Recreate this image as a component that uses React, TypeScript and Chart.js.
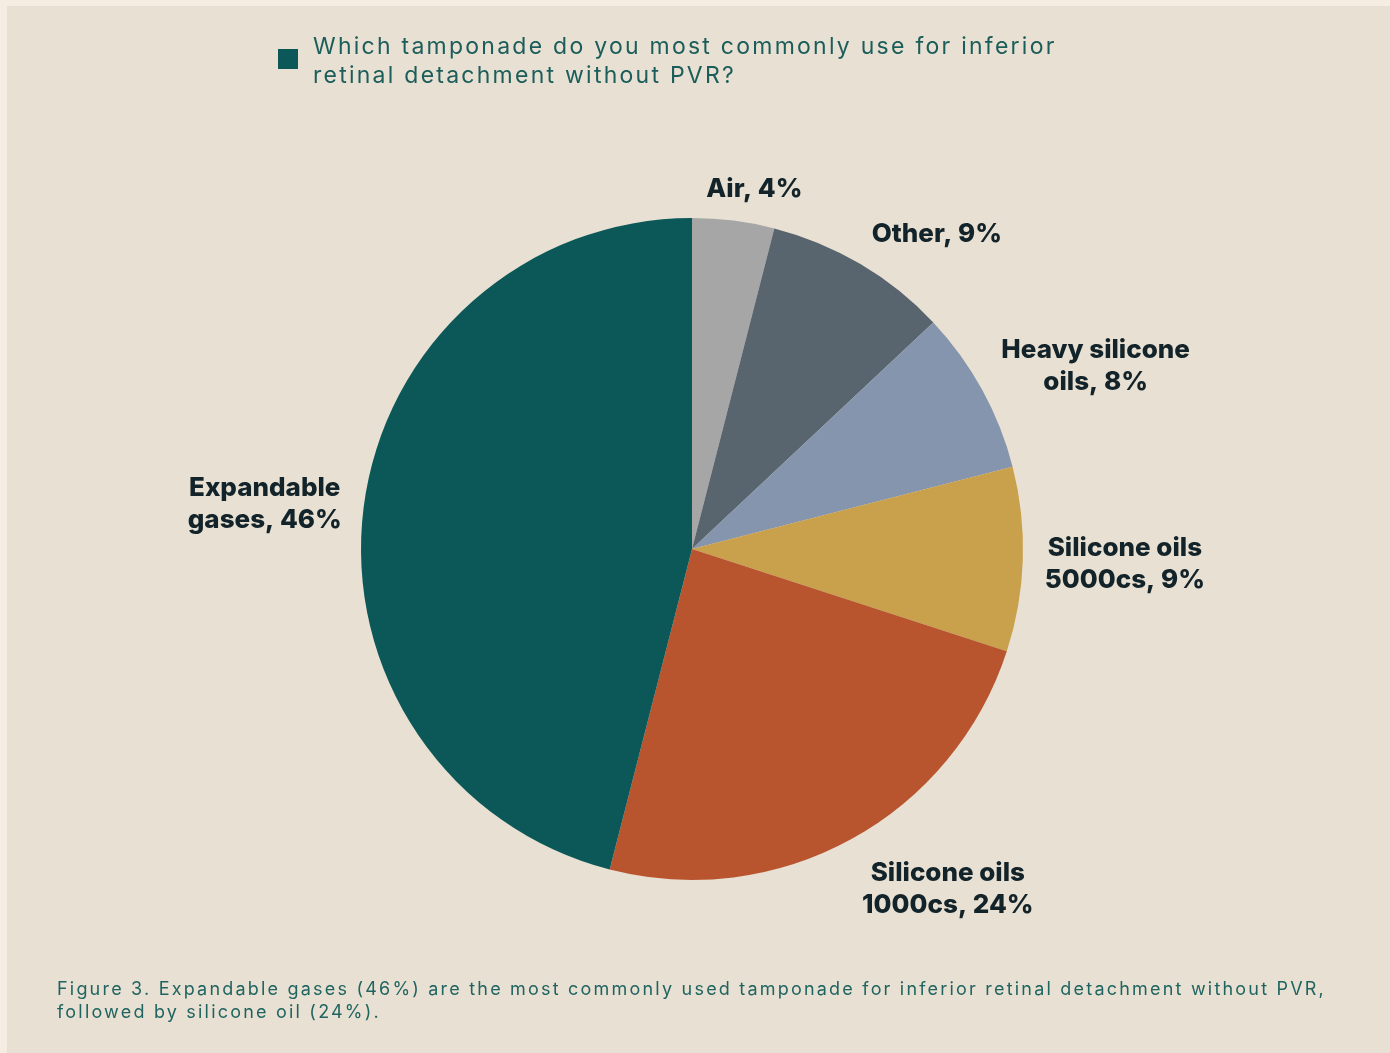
import React, { useEffect, useRef } from "react";
import { Chart, registerables } from "chart.js";

Chart.register(...registerables);

// ---- Data ----
const categories: string[][] = [
  ["Air"],
  ["Other"],
  ["Heavy silicone", "oils"],
  ["Silicone oils", "5000cs"],
  ["Silicone oils", "1000cs"],
  ["Expandable", "gases"],
];
const values: number[] = [4, 9, 8, 9, 24, 46];
const sliceColors: string[] = ["#a6a6a6", "#59656e", "#8595ae", "#c9a04c", "#b8552f", "#0c5859"];
const legendTitle = "Which tamponade do you most commonly use for inferior retinal detachment without PVR?";
const legendLines: string[] = [
  "Which tamponade do you most commonly use for inferior",
  "retinal detachment without PVR?",
];
const captionLines: string[] = [
  "Figure 3. Expandable gases (46%) are the most commonly used tamponade for inferior retinal detachment without PVR,",
  "followed by silicone oil (24%).",
];

const W = 1383;
const H = 1047;

const labelPlugin = {
  id: "outerLabels",
  afterDatasetsDraw(chart: any) {
    const ctx = chart.ctx as CanvasRenderingContext2D;
    const meta = chart.getDatasetMeta(0);
    const fontSize = 26;
    const lineH = 32;
    const offset = 22;
    ctx.save();
    ctx.font = `800 ${fontSize}px Inter, "Noto Sans", sans-serif`;
    ctx.fillStyle = "#13232a";
    ctx.textAlign = "center";
    ctx.textBaseline = "middle";
    meta.data.forEach((arc: any, i: number) => {
      const p = arc.getProps(["x", "y", "startAngle", "endAngle", "outerRadius"], true);
      const mid = (p.startAngle + p.endAngle) / 2;
      const dx = Math.cos(mid);
      const dy = Math.sin(mid);
      const cat = categories[i];
      const lines = cat.slice(0, -1).concat([`${cat[cat.length - 1]}, ${values[i]}%`]);
      const w = Math.max(...lines.map((l) => ctx.measureText(l).width));
      const h = lines.length * lineH;
      const px = p.x + (p.outerRadius + offset) * dx;
      const py = p.y + (p.outerRadius + offset) * dy;
      const clamp = (v: number) => Math.max(-1, Math.min(1, v));
      const cx = px + clamp(3 * dx) * (w / 2);
      const cy = py + clamp(dy) * (h / 2) + 3 + (dy < -0.95 ? 3 : 0);
      lines.forEach((l, k) => {
        ctx.fillText(l, cx, cy - h / 2 + lineH * (k + 0.5));
      });
    });
    ctx.restore();
  },
};

export default function App() {
  const canvasRef = useRef<HTMLCanvasElement | null>(null);

  useEffect(() => {
    document.documentElement.style.overflow = "hidden";
    document.body.style.margin = "6px 0 0 7px";
    document.body.style.background = "#f5ede1";
    const chart = new Chart(canvasRef.current as HTMLCanvasElement, {
      type: "pie",
      data: {
        labels: categories.map((c) => c.join(" ")),
        datasets: [
          {
            label: legendTitle,
            data: values,
            backgroundColor: sliceColors,
            borderWidth: 0,
          },
        ],
      },
      options: {
        animation: false,
        responsive: true,
        maintainAspectRatio: false,
        layout: { padding: { top: 212, bottom: 173, left: 354, right: 367 } },
        plugins: {
          legend: { display: false },
          tooltip: { enabled: false },
        },
      },
      plugins: [labelPlugin],
    });
    return () => chart.destroy();
  }, []);

  return (
    <div
      style={{
        position: "relative",
        width: W,
        height: H,
        background: "#e8e0d2",
        fontFamily: "Inter, 'Noto Sans', sans-serif",
      }}
    >
      <div style={{ position: "absolute", left: 0, top: 0, width: W, height: H }}>
        <canvas ref={canvasRef} />
      </div>
      <div
        style={{
          position: "absolute",
          left: 271,
          top: 43,
          width: 20,
          height: 20,
          background: "#0c5859",
        }}
      />
      <div
        style={{
          position: "absolute",
          left: 306,
          top: 26,
          fontSize: 23,
          lineHeight: "29px",
          letterSpacing: "2.25px",
          color: "#1b5d5a",
          whiteSpace: "nowrap",
        }}
      >
        {legendLines.map((l, i) => (
          <div key={i}>{l}</div>
        ))}
      </div>
      <div
        style={{
          position: "absolute",
          left: 50,
          top: 971,
          fontSize: 18,
          lineHeight: "23px",
          letterSpacing: "2.2px",
          color: "#1f6461",
          whiteSpace: "nowrap",
        }}
      >
        {captionLines.map((l, i) => (
          <div key={i}>{l}</div>
        ))}
      </div>
    </div>
  );
}
